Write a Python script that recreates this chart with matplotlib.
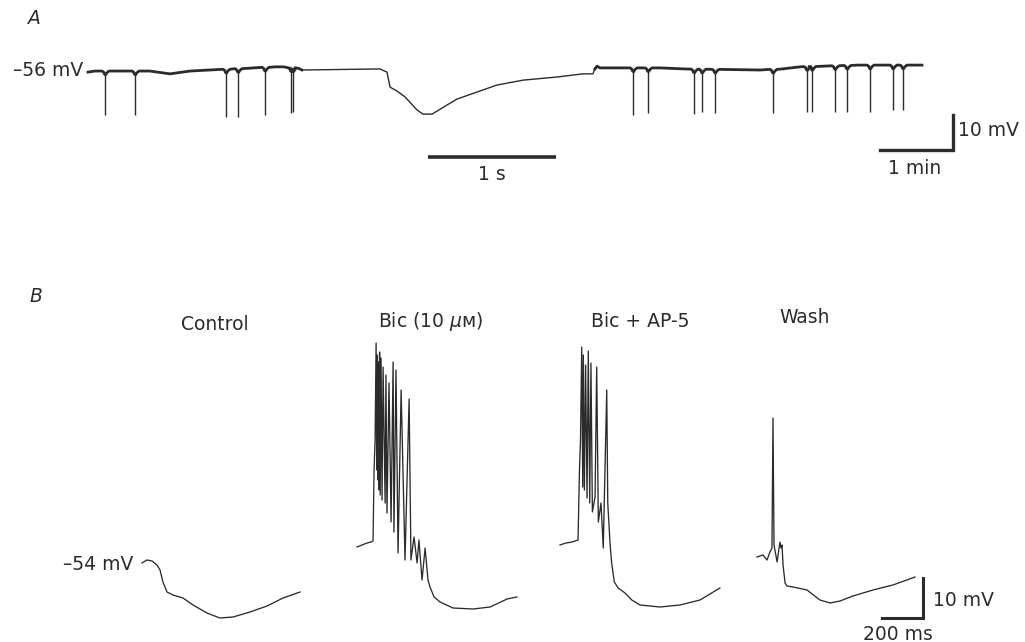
import numpy as np
import matplotlib
matplotlib.use("Agg")
import matplotlib.pyplot as plt

# ---------------- data ----------------
# Panel A: slow chart record before the fast sweep (time in min, mV)
a_pre_base_t = [0.0, 0.096, 0.849, 1.123, 1.397, 2.562, 2.685, 2.904, 2.93]
a_pre_base_v = [-56.6, -56.3, -56.3, -57.1, -56.3, -55.1, -55.1, -55.7, -56.0]
a_pre_spike_t = [0.233, 0.644, 1.890, 2.055, 2.425, 2.781, 2.808]
a_pre_spike_v = [-68.9, -68.9, -69.4, -69.4, -68.9, -68.3, -68.0]

# Panel A: fast sweep (time in s, mV)
a_fast_t = [0.0, 0.609, 0.664, 0.688, 0.742, 0.805, 0.898, 0.945, 1.016, 1.133,
            1.211, 1.367, 1.523, 1.727, 1.992, 2.195, 2.273, 2.29]
a_fast_v = [-56.0, -55.7, -56.6, -60.9, -62.0, -63.7, -67.4, -68.6, -68.6, -66.0,
            -64.3, -62.3, -60.3, -58.9, -58.0, -57.1, -57.1, -55.4]

# Panel A: slow chart record after the fast sweep (time in min, mV)
a_post_base_t = [0.0, 0.027, 0.068, 0.89, 1.233, 2.26, 2.562, 2.808, 3.603, 4.479]
a_post_base_v = [-55.7, -54.9, -55.4, -55.4, -55.7, -56.0, -55.7, -55.1, -54.6, -54.6]
a_post_spike_t = [0.521, 0.726, 1.356, 1.466, 1.644, 2.438, 2.904, 2.973, 3.288,
                  3.452, 3.767, 4.082, 4.219]
a_post_spike_v = [-68.9, -68.3, -68.6, -68.0, -68.3, -68.3, -68.0, -68.0, -68.0,
                  -68.0, -68.0, -67.4, -67.4]

# Panel B traces (time in ms from trace start, mV)
ctrl_t = [0, 24, 49, 73, 88, 102, 122, 151, 200, 249, 317, 380, 444, 527, 610, 688, 771]
ctrl_v = [-54.0, -53.25, -53.5, -54.5, -55.75, -58.75, -61.25, -62.0, -62.75, -64.5,
          -66.5, -67.75, -67.5, -66.25, -64.75, -62.75, -61.25]

bic_t = [0, 24, 49, 68, 78, 83, 88, 93, 96, 99, 102, 105, 107, 110, 113, 117, 122, 127,
         137, 141, 146, 156, 166, 176, 180, 190, 200, 215, 234, 254, 263, 278, 293, 302,
         317, 332, 346, 356, 376, 405, 468, 566, 649, 732, 780]
bic_v = [-50.0, -49.5, -49.0, -48.75, -48.5, -30.75, -23.25, 1.0, -30.75, -2.0, -33.25,
         -3.75, -35.75, -1.25, -37.0, -2.75, -38.25, -5.0, -39.0, -7.0, -41.5, -9.0,
         -43.75, -3.75, -46.25, -5.75, -51.5, -10.75, -53.25, -13.0, -53.25, -47.5,
         -54.0, -48.25, -58.25, -50.25, -58.25, -60.0, -62.5, -63.75, -65.25, -65.5,
         -65.0, -63.0, -62.5]

ap5_t = [0, 29, 59, 88, 95, 100, 106, 111, 114, 119, 125, 132, 138, 145, 151, 158, 171,
         179, 187, 200, 211, 228, 233, 244, 252, 265, 284, 317, 350, 390, 488, 585, 683, 780]
ap5_v = [-49.5, -49.0, -48.75, -48.25, -30.75, -23.25, 0.0, -35.0, -2.0, -35.75, -4.5,
         -37.75, -1.0, -39.0, -4.0, -41.25, -37.5, -5.0, -43.75, -39.0, -50.25, -10.75,
         -39.0, -49.0, -54.0, -58.75, -60.25, -61.5, -63.25, -64.5, -65.0, -64.5,
         -63.25, -60.25]

wash_t = [0, 29, 49, 63, 73, 78, 83, 98, 112, 117, 122, 127, 137, 146, 176, 244, 307,
          356, 405, 468, 566, 663, 771]
wash_v = [-52.5, -52.0, -53.25, -51.25, -50.25, -17.75, -49.5, -53.75, -48.75, -50.25,
          -49.5, -54.5, -59.0, -59.75, -60.0, -60.75, -63.25, -64.0, -63.5, -62.25,
          -60.75, -59.5, -57.5]

b_titles = ["Control", "Bic (10 $\\mu$\u1d0d)", "Bic + AP-5", "Wash"]

# ---------------- layout ----------------
W, H = 1025, 642
INK = "#2b2b2b"
FS = 13.5
plt.rcParams["font.family"] = ["DejaVu Sans"]

fig = plt.figure(figsize=(W / 100, H / 100), dpi=100)
fig.patch.set_facecolor("white")


def overlay(x0_px, sx, t0, y0_px, sy, v0):
    ax = fig.add_axes([0, 0, 1, 1])
    ax.set_xlim(t0 - x0_px / sx, t0 + (W - x0_px) / sx)
    ax.set_ylim(v0 - (H - y0_px) / sy, v0 + y0_px / sy)
    ax.axis("off")
    ax.patch.set_alpha(0)
    return ax


def fx(px):
    return px / W


def fy(py):
    return 1 - py / H


# spike shoulder template (px offsets, mV offsets)
SH_OFF = [-3.0, -1.5, -0.5, 0.5, 2.0, 4.0]
SH_DV = [0.0, -0.25, -0.9, -1.1, -0.45, 0.0]


def with_shoulders(bt, bv, st, ppu):
    t = list(bt)
    v = list(bv)
    for s in st:
        b = np.interp(s, bt, bv)
        for o, d in zip(SH_OFF, SH_DV):
            t.append(s + o / ppu)
            v.append(b + d)
    order = np.argsort(t)
    return np.array(t)[order], np.array(v)[order]


SX_A_MIN = 73.0   # px per min
SX_A_S = 128.0    # px per s
SY_A = 3.5        # px per mV

# ---- Panel A ----
axL = overlay(88, SX_A_MIN, 0.0, 70, SY_A, -56.0)
t, v = with_shoulders(a_pre_base_t, a_pre_base_v, a_pre_spike_t, SX_A_MIN)
axL.plot(t, v, color=INK, lw=2.0, solid_joinstyle="round")
tops = np.interp(a_pre_spike_t, a_pre_base_t, a_pre_base_v) - 1.0
axL.vlines(a_pre_spike_t, a_pre_spike_v, tops, color=INK, lw=1.0)

axM = overlay(302, SX_A_S, 0.0, 70, SY_A, -56.0)
axM.plot(a_fast_t, a_fast_v, color=INK, lw=1.0)
axM.plot([0.984, 1.984], [-81.0, -81.0], color=INK, lw=2.6, solid_capstyle="butt")

axR = overlay(595, SX_A_MIN, 0.0, 70, SY_A, -56.0)
t, v = with_shoulders(a_post_base_t, a_post_base_v, a_post_spike_t, SX_A_MIN)
axR.plot(t, v, color=INK, lw=2.0, solid_joinstyle="round")
tops = np.interp(a_post_spike_t, a_post_base_t, a_post_base_v) - 1.0
axR.vlines(a_post_spike_t, a_post_spike_v, tops, color=INK, lw=1.0)
# 10 mV / 1 min scale bar
axR.plot([3.904, 4.904, 4.904], [-78.86, -78.86, -68.86], color=INK, lw=2.4,
         solid_joinstyle="miter")

fig.text(fx(28), fy(18), "A", fontsize=FS, style="italic", color=INK, va="center")
fig.text(fx(83), fy(71), "\u201356 mV", fontsize=FS, color=INK, ha="right", va="center")
fig.text(fx(492), fy(175), "1 s", fontsize=FS, color=INK, ha="center", va="center")
fig.text(fx(958), fy(130), "10 mV", fontsize=FS, color=INK, ha="left", va="center")
fig.text(fx(915), fy(168), "1 min", fontsize=FS, color=INK, ha="center", va="center")

# ---- Panel B ----
SX_B = 0.205  # px per ms
SY_B = 4.0    # px per mV
axB = overlay(142, SX_B, 0.0, 563, SY_B, -54.0)
b_offsets = [0.0, 1049.0, 2039.0, 3000.0]
for (tt, vv), off in zip([(ctrl_t, ctrl_v), (bic_t, bic_v), (ap5_t, ap5_v), (wash_t, wash_v)],
                         b_offsets):
    axB.plot(np.array(tt) + off, vv, color=INK, lw=0.95, solid_joinstyle="round")
# 10 mV / 200 ms scale bar
axB.plot([3610, 3810, 3810], [-67.75, -67.75, -57.75], color=INK, lw=2.2,
         solid_joinstyle="miter")

fig.text(fx(30), fy(296), "B", fontsize=FS, style="italic", color=INK, va="center")
title_x = [215, 431, 640, 805]
title_y = [325, 322, 322, 318]
for s, x, y in zip(b_titles, title_x, title_y):
    fig.text(fx(x), fy(y), s, fontsize=FS, color=INK, ha="center", va="center")
fig.text(fx(133), fy(564), "\u201354 mV", fontsize=FS, color=INK, ha="right", va="center")
fig.text(fx(933), fy(600), "10 mV", fontsize=FS, color=INK, ha="left", va="center")
fig.text(fx(898), fy(634), "200 ms", fontsize=FS, color=INK, ha="center", va="center")

fig.savefig("out.png", dpi=100, facecolor="white")
